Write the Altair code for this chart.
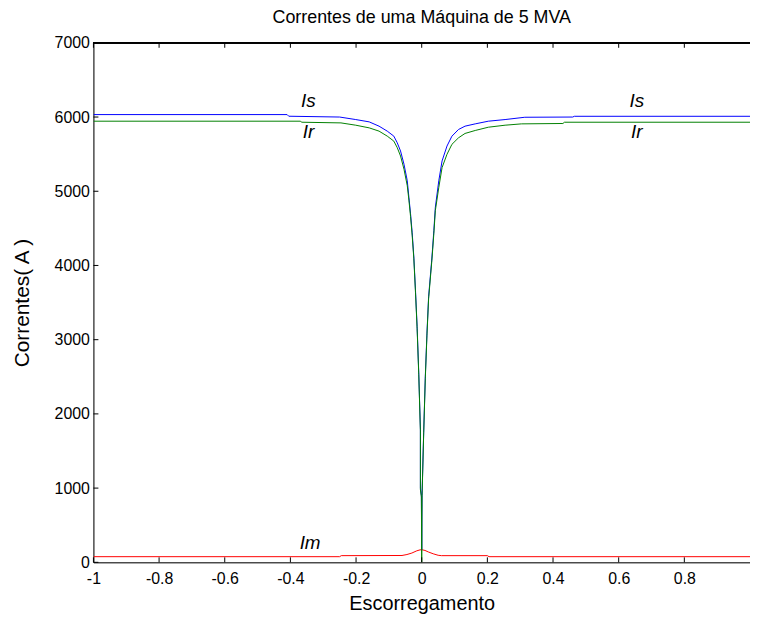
import altair as alt
import pandas as pd

# ---- data ----
slip_is = [-1, -0.41, -0.405, -0.25, -0.201, -0.16, -0.13, -0.105, -0.085, -0.0745, -0.0645,
           -0.054, -0.044, -0.039, -0.034, -0.029, -0.024, -0.019, -0.014, -0.009, -0.004,
           -0.004, -0.001, 0.0, 0.001, 0.006, 0.011, 0.016, 0.021, 0.031, 0.037, 0.0415, 0.052,
           0.062, 0.077, 0.092, 0.112, 0.132, 0.163, 0.203, 0.254, 0.314, 0.46, 0.465, 1]
is_vals = [6033, 6033, 6011, 6000, 5966, 5935, 5877, 5810, 5743, 5653, 5542,
           5364, 5141, 4917, 4695, 4440, 4114, 3668, 3177, 2553, 1794,
           1000, 900, 170, 900, 1750, 2507, 3088, 3578, 4100, 4471, 4783, 5141,
           5408, 5609, 5742, 5832, 5877, 5908, 5944, 5966, 5997, 6000, 6010, 6010]

slip_ir = [-1, -0.37, -0.365, -0.246, -0.201, -0.16, -0.13, -0.105, -0.085, -0.0745, -0.0645,
           -0.054, -0.044, -0.039, -0.034, -0.029, -0.024, -0.019, -0.014, -0.009, -0.004,
           -0.004, -0.001, 0.0, 0.001, 0.006, 0.011, 0.016, 0.021, 0.031, 0.037, 0.0415, 0.052,
           0.062, 0.077, 0.092, 0.112, 0.132, 0.163, 0.203, 0.254, 0.304, 0.43, 0.435, 1]
ir_vals = [5944, 5944, 5930, 5921, 5890, 5854, 5810, 5743, 5676, 5587, 5475,
           5297, 5074, 4880, 4660, 4400, 4090, 3640, 3150, 2530, 1770,
           980, 880, 0, 880, 1730, 2480, 3060, 3550, 4070, 4430, 4739, 5051,
           5319, 5498, 5632, 5720, 5779, 5819, 5863, 5890, 5908, 5913, 5930, 5930]

slip_im = [-1, -0.25, -0.245, -0.06, -0.045, -0.03, -0.015, -0.005, 0.0, 0.01, 0.02, 0.035,
           0.05, 0.06, 0.2, 0.205, 1]
im_vals = [76, 76, 90, 92, 105, 125, 155, 168, 170, 160, 140, 115, 95, 90, 90, 76, 76]

x_ticks = [-1, -0.8, -0.6, -0.4, -0.2, 0, 0.2, 0.4, 0.6, 0.8]
y_ticks = [0, 1000, 2000, 3000, 4000, 5000, 6000, 7000]

label_text = ["Is", "Ir", "Is", "Ir", "Im"]
label_s = [-0.345, -0.345, 0.655, 0.655, -0.34]
label_i = [6210, 5800, 6210, 5800, 265]

W, H = 661, 523
FONT = "Liberation Sans"


def series(xs, ys):
    return pd.DataFrame({"s": xs, "i": ys, "k": list(range(len(xs)))})


xscale = alt.Scale(domain=[-1, 1], nice=False, zero=False)
yscale = alt.Scale(domain=[0, 7000], nice=False)

x_axis = alt.Axis(
    values=x_ticks, tickSize=0, labelPadding=8, labelFontSize=16, labelFont=FONT,
    labelColor="black", domainColor="black", domainWidth=1, grid=False, title="Escorregamento",
    titleFontSize=20, titleFont=FONT, titleFontWeight="normal", titleColor="black",
    titleY=41, titleBaseline="middle",
    labelExpr="'' + round(datum.value * 10) / 10", labelFlush=False,
)
y_axis = alt.Axis(
    values=y_ticks, tickSize=0, labelPadding=4, labelFontSize=16, labelFont=FONT,
    labelColor="black", domainColor="black", domainWidth=1, grid=False, title="Correntes( A )",
    titleFontSize=21, titleFont=FONT, titleFontWeight="normal", titleColor="black",
    titleX=-71, titleY=H / 2, titleAngle=-90, titleBaseline="middle", titleAlign="center",
    format="d", labelFlush=False,
)

X = lambda f: alt.X(f, scale=xscale, axis=x_axis)
Y = lambda f: alt.Y(f, scale=yscale, axis=y_axis)


def line(df, color):
    return alt.Chart(df).mark_line(color=color, strokeWidth=1, clip=True).encode(
        x=X("s:Q"), y=Y("i:Q"), order="k:Q",
    )


im_line = line(series(slip_im, im_vals), "#ff0000")
is_line = line(series(slip_is, is_vals), "#0000ff")
ir_line = line(series(slip_ir, ir_vals), "#008000")

xt = pd.DataFrame({"s": x_ticks})
yt = pd.DataFrame({"i": y_ticks})

top_ticks = alt.Chart(xt).mark_rule(color="black", strokeWidth=1).encode(
    x=X("s:Q"), y=alt.value(0), y2=alt.value(5))
bot_ticks = alt.Chart(xt).mark_rule(color="black", strokeWidth=1).encode(
    x=X("s:Q"), y=alt.value(H), y2=alt.value(H - 5))
left_ticks = alt.Chart(yt).mark_rule(color="black", strokeWidth=1).encode(
    y=Y("i:Q"), x=alt.value(0), x2=alt.value(5))
top_border = alt.Chart(xt).mark_rule(color="black", strokeWidth=1).encode(
    x=alt.value(0), x2=alt.value(W), y=alt.value(0))

labels = alt.Chart(pd.DataFrame({"txt": label_text, "s": label_s, "i": label_i})).mark_text(
    font=FONT, fontSize=19, fontStyle="italic", color="black", align="center", baseline="middle"
).encode(
    x=X("s:Q"), y=Y("i:Q"), text="txt:N",
)

chart = alt.layer(
    im_line, is_line, ir_line, top_ticks, bot_ticks, left_ticks, top_border, labels
).properties(
    width=W, height=H,
    autosize=alt.AutoSizeParams(type="none"),
    padding={"left": 86, "top": 33, "right": 0, "bottom": 55},
    title=alt.TitleParams(
        "Correntes de uma Máquina de 5 MVA", font=FONT, fontSize=18, fontWeight="normal",
        color="black", anchor="middle", offset=8,
    ),
).configure_view(stroke=None).configure(background="white")

chart.save("out.html", embed_options={"renderer": "svg", "actions": False})
